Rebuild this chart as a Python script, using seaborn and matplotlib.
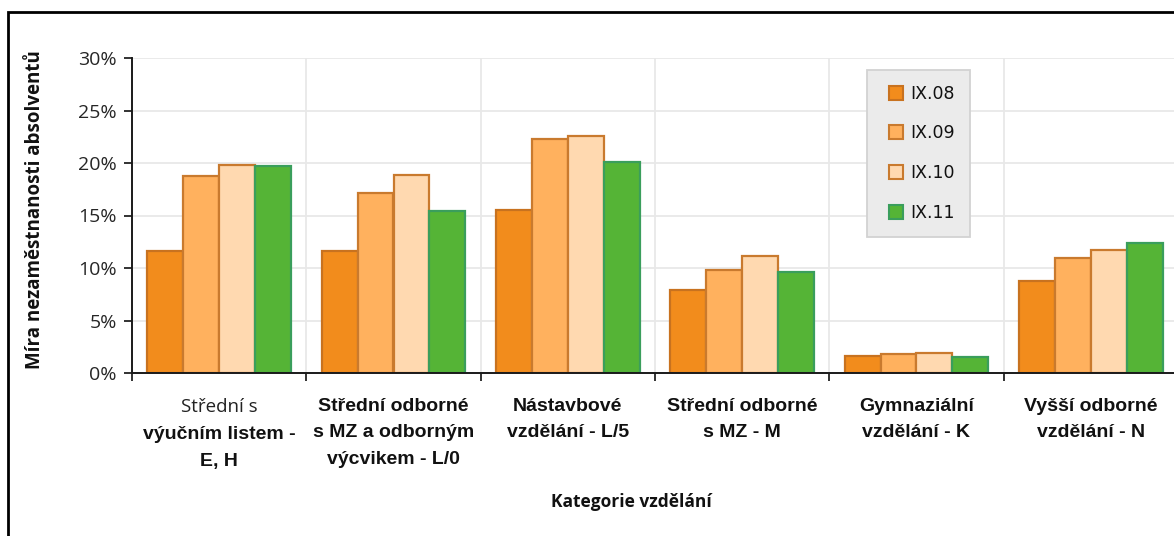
import matplotlib
matplotlib.use("Agg")
import matplotlib.pyplot as plt
import matplotlib.ticker as mticker
from matplotlib.patches import Rectangle
from matplotlib.lines import Line2D
import seaborn as sns
import pandas as pd

categories = ["Střední s výučním listem - E, H",
              "Střední odborné s MZ a odborným výcvikem - L/0",
              "Nástavbové vzdělání - L/5",
              "Střední odborné s MZ - M",
              "Gymnaziální vzdělání - K",
              "Vyšší odborné vzdělání - N"]
first_line_regular = "Střední s"
tick_labels = ["výučním listem -\nE, H",
               "Střední odborné\ns MZ a odborným\nvýcvikem - L/0",
               "Nástavbové\nvzdělání - L/5",
               "Střední odborné\ns MZ - M",
               "Gymnaziální\nvzdělání - K",
               "Vyšší odborné\nvzdělání - N"]
series_names = ["IX.08", "IX.09", "IX.10", "IX.11"]
ix08 = [11.6, 11.6, 15.5, 7.9, 1.6, 8.8]
ix09 = [18.8, 17.1, 22.3, 9.8, 1.8, 11.0]
ix10 = [19.8, 18.9, 22.6, 11.1, 1.9, 11.7]
ix11 = [19.7, 15.4, 20.1, 9.6, 1.5, 12.4]

face_colors = ["#F28C1C", "#FFB15E", "#FFD9B0", "#55B436"]
edge_colors = ["#C8721F", "#C97A2E", "#C97A2E", "#3A9E5C"]

rows = []
for name, vals in zip(series_names, [ix08, ix09, ix10, ix11]):
    for c, v in zip(categories, vals):
        rows.append({"cat": c, "series": name, "val": v})
df = pd.DataFrame(rows)

sns.set_theme(style="white")
plt.rcParams['font.family'] = ['DejaVu Sans']

fig = plt.figure(figsize=(11.74, 5.36), dpi=100)
W, H = 1174, 536
ax = fig.add_axes([132 / W, 1 - 373 / H, (1178 - 132) / W, (373 - 58) / H])

sns.barplot(data=df, x="cat", y="val", hue="series", order=categories,
            hue_order=series_names, palette=face_colors, width=0.826,
            ax=ax, saturation=1, errorbar=None, legend=False)

for cont, ec in zip(ax.containers, edge_colors):
    for bar in cont:
        bar.set_edgecolor(ec)
        bar.set_linewidth(1.6)

ax.set_xlim(-0.5, 5.5)
ax.set_ylim(0, 30)
ax.yaxis.set_major_locator(mticker.MultipleLocator(5))
ax.yaxis.set_major_formatter(mticker.FuncFormatter(lambda v, p: f"{int(round(v))}%"))

line_sp = 1.72
fs_tick = 14
ax.set_xticks(range(len(categories)))
ax.set_xticklabels(tick_labels, fontsize=fs_tick, fontweight="bold",
                   family=["Liberation Sans Narrow", "Liberation Sans"],
                   linespacing=line_sp, color="#111111")
ax.set_xticks([i - 0.5 for i in range(len(categories) + 1)], minor=True)
xpad = 18
ax.tick_params(axis="x", which="major", length=0, pad=xpad)
ax.tick_params(axis="x", which="minor", length=6, width=1.3, color="#222222", direction="out", bottom=True)
ax.tick_params(axis="y", which="major", length=6, width=1.3, color="#222222", direction="out",
               left=True, pad=5, labelsize=14, labelcolor="#262626")
for lbl in ax.get_yticklabels():
    lbl.set_family(["Open Sans", "DejaVu Sans"])

# first category: regular first line drawn separately, bold rest pushed down one line
ax.xaxis.get_major_ticks()[0].set_pad(xpad + 20.5)
ax.annotate(first_line_regular, xy=(0, 0), xycoords=("data", "axes fraction"),
            xytext=(0, -xpad), textcoords="offset points", ha="center", va="top",
            fontsize=13.5, family=["Open Sans", "DejaVu Sans"], color="#222222")

ax.grid(axis="y", which="major", color="#e8e8e8", linewidth=1.3)
ax.grid(axis="x", which="minor", color="#e8e8e8", linewidth=1.3)
ax.grid(axis="x", which="major", visible=False)
ax.set_axisbelow(True)

for s in ["top", "right"]:
    ax.spines[s].set_visible(False)
for s in ["left", "bottom"]:
    ax.spines[s].set_color("#1a1a1a")
    ax.spines[s].set_linewidth(1.4)

ax.set_xlabel("")
ax.set_ylabel("Míra nezaměstnanosti absolventů", fontsize=13.5, fontweight="bold",
              family=["Open Sans", "DejaVu Sans"], color="#111111")
ax.yaxis.set_label_coords((45 - 132) / 1046, 0.52)

fig.text(631 / W, 1 - 502 / H, "Kategorie vzdělání", ha="center", va="center",
         fontsize=12.5, fontweight="bold", family=["Open Sans", "DejaVu Sans"], color="#111111")

handles = [Line2D([], [], linestyle="none", marker="s", markersize=9.5,
                  markerfacecolor=fc, markeredgecolor=ec, markeredgewidth=1.5)
           for fc, ec in zip(face_colors, edge_colors)]
leg = ax.legend(handles, series_names, loc="upper left",
                bbox_to_anchor=((867 - 132) / 1046, (373 - 70) / 315),
                borderaxespad=0, frameon=True, fancybox=False, framealpha=1,
                facecolor="#ebebeb", edgecolor="#d2d2d2", fontsize=12.5,
                labelspacing=1.25, handlelength=1.6, handleheight=0.7,
                handletextpad=0.05, borderpad=0.85)
leg.get_frame().set_linewidth(1.3)
for t in leg.get_texts():
    t.set_family(["DejaVu Sans"])
    t.set_color("#111111")

fig.add_artist(Rectangle((8 / W, -0.1), 1.2, 1.1 - 12 / H, transform=fig.transFigure,
                         fill=False, edgecolor="black", linewidth=2))

fig.savefig("out.png", dpi=100)
